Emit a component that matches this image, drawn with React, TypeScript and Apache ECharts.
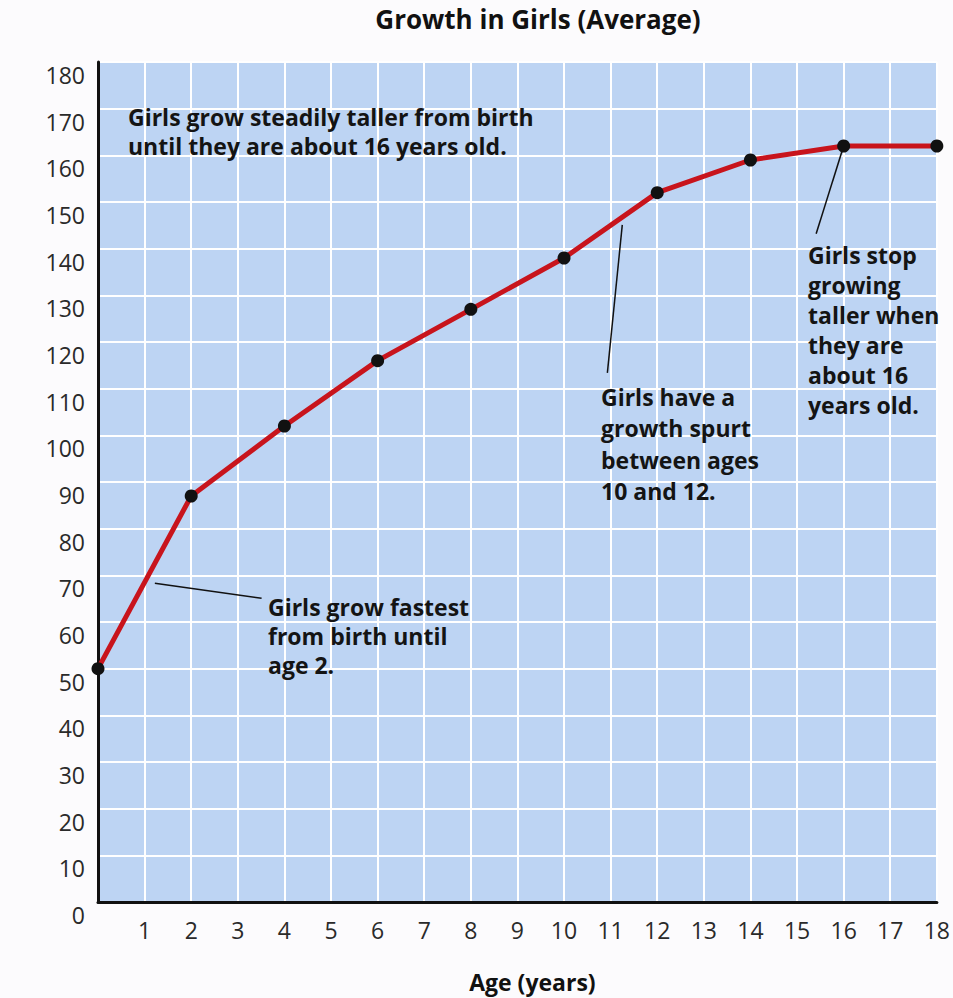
import React, { useEffect, useRef } from "react";
import * as echarts from "echarts";

const ages = [0, 2, 4, 6, 8, 10, 12, 14, 16, 18];
const heights = [50, 87, 102, 116, 127, 138, 152, 159, 162, 162];
const titleText = "Growth in Girls (Average)";
const xAxisName = "Age (years)";
const notes = [
  "Girls grow steadily taller from birth\nuntil they are about 16 years old.",
  "Girls grow fastest\nfrom birth until\nage 2.",
  "Girls have a\ngrowth spurt\nbetween ages\n10 and 12.",
  "Girls stop\ngrowing\ntaller when\nthey are\nabout 16\nyears old.",
];
// leader lines in data coordinates [age, height]
const leaders = [
  [[1.22, 68.3], [3.51, 65.1]],
  [[11.25, 145.1], [10.93, 113.4]],
  [[16, 162], [15.41, 143.2]],
];

export default function App() {
  const ref = useRef<HTMLDivElement>(null);
  useEffect(() => {
    document.body.style.margin = "0";
    const chart = echarts.init(ref.current!, null, { renderer: "svg" });
    const font = "'Open Sans', 'Noto Sans', sans-serif";
    const noteStyle = (text: string, lh: number) => ({
      text,
      fontFamily: font,
      fontWeight: "bold",
      fontSize: 23,
      lineHeight: lh,
      fill: "#141414",
    });
    chart.setOption({
      animation: false,
      backgroundColor: "#fcfbfd",
      title: {
        text: titleText,
        left: 533,
        textAlign: "center",
        top: 1,
        textStyle: { fontFamily: font, fontWeight: "bold", fontSize: 26, color: "#111" },
      },
      grid: { left: 98, right: 15, top: 62, bottom: 90, show: true, backgroundColor: "#bdd4f3", borderWidth: 0 },
      xAxis: {
        type: "value",
        min: 0,
        max: 18,
        interval: 1,
        axisLine: { show: true, lineStyle: { color: "#111", width: 3 } },
        axisTick: { show: false },
        splitLine: { show: true, lineStyle: { color: "#ffffff", width: 2 } },
        axisLabel: {
          margin: 16,
          fontFamily: font,
          fontSize: 23,
          color: "#2a2a2a",
          formatter: (v: number) => (v === 0 ? "" : String(v)),
        },
        name: xAxisName,
        nameLocation: "middle",
        nameGap: 68,
        nameTextStyle: { fontFamily: font, fontWeight: "bold", fontSize: 23, color: "#111", padding: [0, 0, 0, 30] },
      },
      yAxis: {
        type: "value",
        min: 0,
        max: 180,
        interval: 10,
        axisLine: { show: true, lineStyle: { color: "#111", width: 3 } },
        axisTick: { show: false },
        splitLine: { show: true, lineStyle: { color: "#ffffff", width: 2 } },
        axisLabel: {
          margin: 13,
          fontFamily: font,
          fontSize: 23,
          color: "#2a2a2a",
          verticalAlign: "top",
          lineHeight: 26,
        },
      },
      series: [
        {
          type: "line",
          data: ages.map((a, i) => [a, heights[i]]),
          lineStyle: { color: "#c8141c", width: 5 },
          symbol: "circle",
          symbolSize: 13,
          itemStyle: { color: "#111" },
          z: 5,
          markLine: {
            silent: true,
            symbol: "none",
            label: { show: false },
            lineStyle: { color: "#111", width: 1.5, type: "solid" },
            data: leaders.map((l) => [{ coord: l[0] }, { coord: l[1] }]),
          },
        },
      ],
      graphic: [
        { type: "text", left: 128, top: 102, z: 10, style: noteStyle(notes[0], 29) },
        { type: "text", left: 268, top: 592, z: 10, style: noteStyle(notes[1], 29) },
        { type: "text", left: 601, top: 381, z: 10, style: noteStyle(notes[2], 31.5) },
        { type: "text", left: 808, top: 240, z: 10, style: noteStyle(notes[3], 30) },
      ],
    });
    return () => chart.dispose();
  }, []);
  return <div ref={ref} style={{ width: 953, height: 998 }} />;
}
